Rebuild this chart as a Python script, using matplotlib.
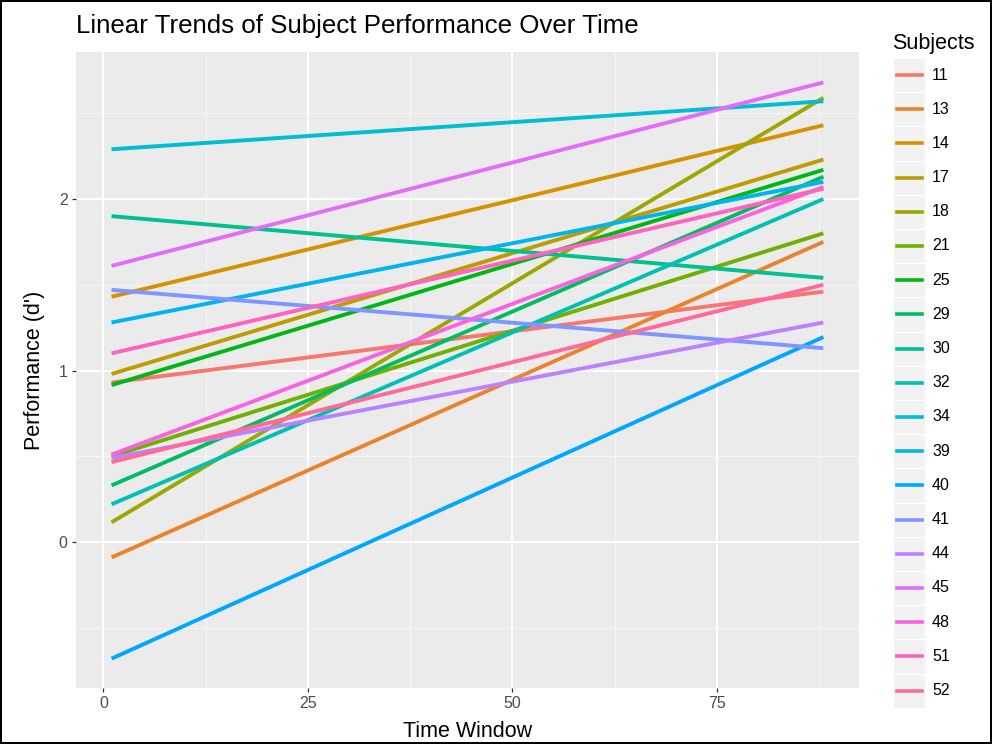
import numpy as np
import matplotlib
matplotlib.use("Agg")
import matplotlib.pyplot as plt

plt.rcParams['font.family'] = ['Liberation Sans', 'DejaVu Sans']

# Fitted trend lines (value at first and last time window)
subjects = ['11', '13', '14', '17', '18', '21', '25', '29', '30', '32',
            '34', '39', '40', '41', '44', '45', '48', '51', '52']
x_start = 1
x_end = 88
y_start = [0.93, -0.09, 1.43, 0.98, 0.115, 0.50, 0.915, 0.33, 1.90, 0.22,
           2.29, 1.28, -0.68, 1.47, 0.49, 1.61, 0.51, 1.10, 0.466]
y_end = [1.46, 1.75, 2.43, 2.23, 2.59, 1.80, 2.17, 2.13, 1.54, 2.00,
         2.57, 2.10, 1.195, 1.13, 1.28, 2.68, 2.07, 2.06, 1.50]


def hue_pal(n, l=65, c=100):
    # ggplot2 default discrete palette (polar Luv -> sRGB)
    hues = np.linspace(15, 375, n + 1)[:n]
    un, vn = 0.1978398, 0.4683363
    out = []
    for h in hues:
        u = c * np.cos(np.radians(h))
        v = c * np.sin(np.radians(h))
        Y = ((l + 16) / 116) ** 3
        up = u / (13 * l) + un
        vp = v / (13 * l) + vn
        X = 9.0 * Y * up / (4 * vp)
        Z = -X / 3 - 5 * Y + 3 * Y / vp
        rgb = [3.240479 * X - 1.537150 * Y - 0.498535 * Z,
               -0.969256 * X + 1.875992 * Y + 0.041556 * Z,
               0.055648 * X - 0.204043 * Y + 1.057311 * Z]
        res = []
        for t in rgb:
            t = 12.92 * t if t <= 0.0031308 else 1.055 * t ** (1 / 2.4) - 0.055
            res.append(min(max(t, 0), 1))
        out.append(tuple(res))
    return out


colors = hue_pal(len(subjects))

fig = plt.figure(figsize=(9.92, 7.44), dpi=100)
fig.patch.set_edgecolor('black')
fig.patch.set_linewidth(1.5)

ax = fig.add_axes([0.0766, 0.0753, 0.7893, 0.8548])
ax.set_facecolor('#EBEBEB')
for s in ax.spines.values():
    s.set_visible(False)

for i, subj in enumerate(subjects):
    ax.plot([x_start, x_end], [y_start[i], y_end[i]], color=colors[i],
            lw=2.8, solid_capstyle='butt', zorder=3)

ax.set_xlim(-3.35, 92.35)
ax.set_ylim(-0.851, 2.857)
ax.set_xticks([0, 25, 50, 75])
ax.set_yticks([0, 1, 2])
ax.set_xticks([12.5, 37.5, 62.5, 87.5], minor=True)
ax.set_yticks([-0.5, 0.5, 1.5, 2.5], minor=True)
ax.grid(which='major', color='white', lw=1.4, zorder=1)
ax.grid(which='minor', color='#F7F7F7', lw=0.7, zorder=1)
ax.set_axisbelow(True)
ax.tick_params(which='major', length=3, width=0.9, color='#333333',
               labelsize=11.5, labelcolor='#4D4D4D', pad=3)
ax.tick_params(which='minor', length=0)

ax.set_xlabel('Time Window', fontsize=15.5, color='black', labelpad=7)
ax.set_ylabel("Performance (d')", fontsize=15.5, color='black', labelpad=10)
ax.set_title('Linear Trends of Subject Performance Over Time', fontsize=18.6,
             loc='left', pad=14)

# legend drawn by hand so each key gets ggplot's grey box
fig.text(892 / 992, 1 - 43 / 744, 'Subjects', fontsize=15.5, ha='left', va='center')
key_w = 31
key_h = 34.2
for i, subj in enumerate(subjects):
    cy = 75 + i * key_h
    box = plt.Rectangle((894 / 992, 1 - (cy + key_h / 2) / 744), key_w / 992,
                        (key_h - 1) / 744, transform=fig.transFigure,
                        facecolor='#F2F2F2', edgecolor='none')
    fig.patches.append(box)
    fig.lines.append(plt.Line2D([897 / 992, 922 / 992], [1 - cy / 744] * 2,
                                transform=fig.transFigure, color=colors[i], lw=2.6))
    fig.text(932 / 992, 1 - cy / 744, subj, fontsize=11.5, ha='left', va='center')

plt.savefig('out.png', dpi=100)
